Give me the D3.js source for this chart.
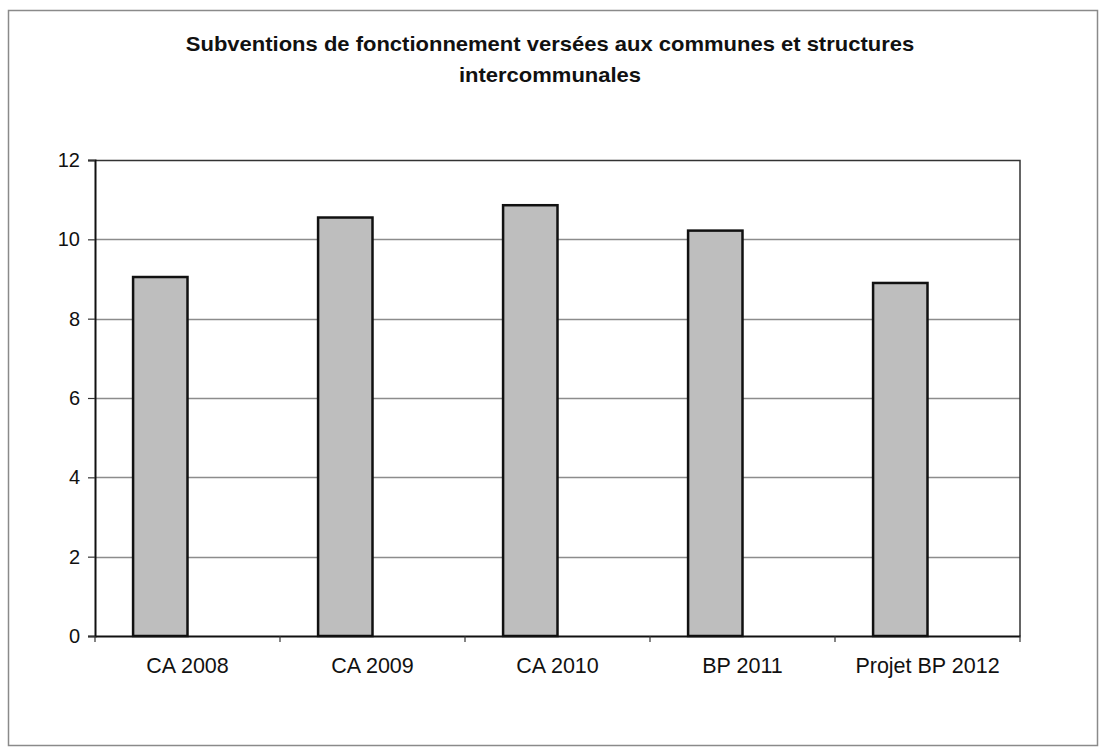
<!DOCTYPE html>
<html>
<head>
<meta charset="utf-8">
<script src="https://cdn.jsdelivr.net/npm/d3@7"></script>
<style>
  body { margin: 0; background: #fff; }
  svg { display: block; }
</style>
</head>
<body>
<div id="chart"></div>
<script>
'use strict'

var titleLines = ['Subventions de fonctionnement versées aux communes et structures', 'intercommunales']
var categories = ['CA 2008', 'CA 2009', 'CA 2010', 'BP 2011', 'Projet BP 2012']
var values = [9.05, 10.55, 10.86, 10.22, 8.9]
var yTicks = [0, 2, 4, 6, 8, 10, 12]
// second, empty series slot (that is what pushes the bars left of centre)
var seriesSlots = ['subventions', 'vide']

var width = 1099
var height = 748
var margin = { top: 160, right: 79, bottom: 112, left: 95 }

var svg = d3.select('#chart').append('svg')
  .attr('width', width)
  .attr('height', height)
  .style('font-family', 'Liberation Sans, Arial, sans-serif')

// outer chart frame
svg.append('rect')
  .attr('x', 8.5)
  .attr('y', 10.5)
  .attr('width', 1089)
  .attr('height', 735)
  .attr('fill', 'none')
  .attr('stroke', '#8a8a8a')
  .attr('stroke-width', 1.5)

// the scanned title is a bit wider than the font, so stretch it
svg.append('g')
  .attr('transform', 'translate(550,0) scale(1.1,1)')
  .selectAll('text')
  .data(titleLines)
  .enter().append('text')
  .attr('x', 0)
  .attr('y', function (d, i) { return 51 + i * 31 })
  .attr('text-anchor', 'middle')
  .style('font-weight', 'bold')
  .style('font-size', '20px')
  .style('fill', '#111')
  .text(function (d) { return d })

var innerW = width - margin.left - margin.right
var innerH = height - margin.top - margin.bottom

var g = svg.append('g')
  .attr('transform', 'translate(' + margin.left + ',' + margin.top + ')')

var x = d3.scaleBand().domain(categories).range([0, innerW])
var xSub = d3.scaleBand().domain(seriesSlots).range([0, x.bandwidth()])
  .paddingInner(0).paddingOuter(0.7)
var y = d3.scaleLinear().domain([0, 12]).range([innerH, 0])

// grid lines
g.append('g').selectAll('line')
  .data(yTicks.slice(1, -1))
  .enter().append('line')
  .attr('x1', 0)
  .attr('x2', innerW)
  .attr('y1', function (d) { return Math.round(y(d)) + 0.5 })
  .attr('y2', function (d) { return Math.round(y(d)) + 0.5 })
  .attr('stroke', '#8c8c8c')
  .attr('stroke-width', 1.5)

// plot frame top and right
g.append('path')
  .attr('d', 'M0,0.5H' + innerW + 'V' + innerH)
  .attr('fill', 'none')
  .attr('stroke', '#333')
  .attr('stroke-width', 1.5)

// bars
g.append('g').selectAll('rect')
  .data(values)
  .enter().append('rect')
  .attr('x', function (d, i) { return x(categories[i]) + xSub('subventions') })
  .attr('y', function (d) { return y(d) })
  .attr('width', xSub.bandwidth())
  .attr('height', function (d) { return innerH - y(d) })
  .attr('fill', '#bebebe')
  .attr('stroke', '#111')
  .attr('stroke-width', 2.5)

// y axis
var yAxis = g.append('g')
  .call(d3.axisLeft(y).tickValues(yTicks).tickSize(7).tickPadding(8))
yAxis.select('.domain').attr('stroke', '#111').attr('stroke-width', 2)
yAxis.selectAll('.tick line').attr('stroke', '#333').attr('stroke-width', 1.2)
yAxis.selectAll('text').style('font-size', '20px').style('fill', '#111')

// x axis, ticks on the category boundaries
var xAxis = g.append('g')
  .attr('transform', 'translate(0,' + innerH + ')')
  .call(d3.axisBottom(x).tickSize(0).tickPadding(22))
xAxis.select('.domain').attr('stroke', '#111').attr('stroke-width', 2)
xAxis.selectAll('text').style('font-size', '21.5px').style('fill', '#111')

xAxis.append('g').selectAll('line')
  .data(categories.concat(['end']))
  .enter().append('line')
  .attr('x1', function (d, i) { return i * x.step() })
  .attr('x2', function (d, i) { return i * x.step() })
  .attr('y1', 0)
  .attr('y2', 6)
  .attr('stroke', '#333')
  .attr('stroke-width', 1.2)
</script>
</body>
</html>
